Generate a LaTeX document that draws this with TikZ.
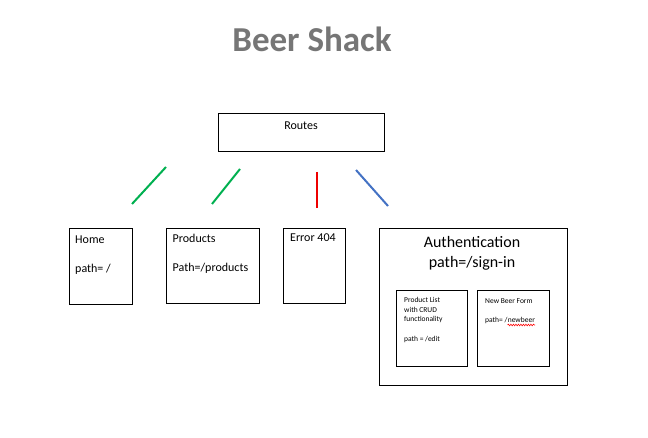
\documentclass[tikz,border=0pt]{standalone}
\usepackage{fontspec}
\setmainfont{Carlito}
\usetikzlibrary{decorations.pathmorphing}
\definecolor{titlegray}{HTML}{767676}
\definecolor{lgreen}{HTML}{00B050}
\definecolor{lred}{HTML}{EE0000}
\definecolor{lblue}{HTML}{4472C4}
\tikzset{
  box/.style={draw=black, line width=1pt, inner sep=0pt, anchor=north west},
  txt/.style={inner sep=0pt, anchor=base west, font=\fontsize{12}{14}\selectfont},
  small/.style={inner sep=0pt, anchor=base west, font=\fontsize{7.5}{10}\selectfont},
  conn/.style={line width=2pt},
}
\begin{document}
\begin{tikzpicture}[x=1pt,y=-1pt]
\useasboundingbox[fill=white] (0,0) rectangle (648,438);
% title
\node[inner sep=0pt, anchor=base, font=\bfseries\fontsize{35}{40}\selectfont, text=titlegray] (title) at (312,52) {Beer Shack};
% routes
\node[box, minimum width=166pt, minimum height=38pt] (routes) at (218,113) {};
\node[txt, anchor=base] (routestxt) at (301,130) {Routes};
% connectors
\coordinate (g1a) at (132,204); \coordinate (g1b) at (166,167);
\coordinate (g2a) at (212,204); \coordinate (g2b) at (240,169);
\coordinate (ra) at (317,172); \coordinate (rb) at (317,208);
\coordinate (ba) at (356,170); \coordinate (bb) at (388,206);
\draw[conn, lgreen] (g1a) -- (g1b);
\draw[conn, lgreen] (g2a) -- (g2b);
\draw[conn, lred] (ra) -- (rb);
\draw[conn, lblue] (ba) -- (bb);
% home
\node[box, minimum width=63pt, minimum height=76pt] (home) at (69,228) {};
\node[txt] (hometitle) at (75,244) {Home};
\node[txt] (homepath) at (75,273) {path= /};
% products
\node[box, minimum width=93pt, minimum height=75pt] (products) at (166,228) {};
\node[txt] (prodtitle) at (172.5,243) {Products};
\node[txt] (prodpath) at (172.5,272) {Path=/products};
% error
\node[box, minimum width=62pt, minimum height=75pt] (error) at (283,228) {};
\node[txt] (errtitle) at (290,241.5) {Error 404};
% auth
\node[box, minimum width=188pt, minimum height=157pt] (auth) at (379,228) {};
\node[inner sep=0pt, anchor=base, font=\fontsize{16}{20}\selectfont] (authtitle) at (472,248) {Authentication};
\node[inner sep=0pt, anchor=base, font=\fontsize{16}{20}\selectfont] (authpath) at (472,268) {path=/sign-in};
% product list
\node[box, minimum width=71pt, minimum height=76pt] (plist) at (396,290) {};
\node[small] (pl1) at (404,302.5) {Product List};
\node[small] (pl2) at (404,312.5) {with CRUD};
\node[small] (pl3) at (404,322) {functionality};
\node[small] (pl4) at (404,341.5) {path = /edit};
% new beer form
\node[box, minimum width=72pt, minimum height=76pt] (nbf) at (477,290) {};
\node[small] (nb1) at (485,304) {New Beer Form};
\node[small] (nb2) at (485,323) {path= /};
\node[small, anchor=base west] (nb3) at (nb2.base east) {newbeer};
\coordinate (sqa) at ([yshift=-2pt]nb3.base west);
\coordinate (sqb) at ([yshift=-2pt]nb3.base east);
\draw[red, line width=0.6pt, decorate, decoration={snake, amplitude=0.8pt, segment length=2.5pt}] (sqa) -- (sqb);
\end{tikzpicture}
\end{document}
